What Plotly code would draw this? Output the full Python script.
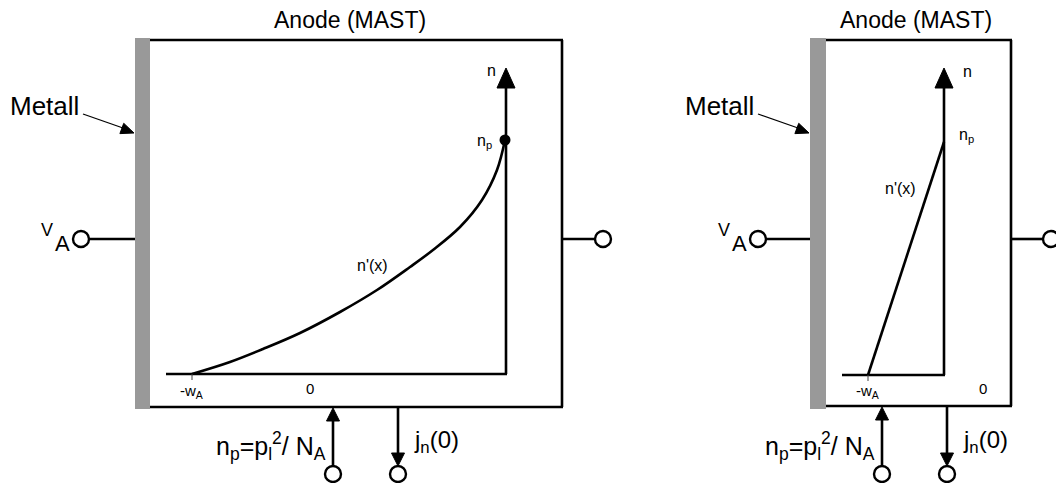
import math
import plotly.graph_objects as go

# ---------------- data (pixel space of the drawing) -------------
panel_titles = ["Anode (MAST)", "Anode (MAST)"]
metal_label = "Metall"
# left panel: exponential-like minority carrier profile n'(x)
curve_left_x = [192, 230, 263, 300, 340, 377, 410, 433, 460, 482, 497, 505]
curve_left_y = [374, 362, 349, 333, 312, 290, 267, 250, 227, 200, 170, 140]
# right panel: linear profile n'(x)
line_right_x = [868, 944]
line_right_y = [375, 142]
# boundary value n_p marker (left panel)
np_point_x = [505]
np_point_y = [140]

FONT = "Liberation Sans, Arial, sans-serif"
LW = 2.6

shapes = []
annotations = []


def line(x0, y0, x1, y1, w=LW, color="black"):
    shapes.append(dict(type="line", x0=x0, y0=y0, x1=x1, y1=y1,
                       line=dict(color=color, width=w), layer="above"))


def head(tx, ty, ux, uy, L, W):
    n = math.hypot(ux, uy)
    ux, uy = ux / n, uy / n
    bx, by = tx - ux * L, ty - uy * L
    px, py = -uy, ux
    p = (f"M {tx},{ty} L {bx + px * W / 2},{by + py * W / 2} "
         f"L {bx - px * W / 2},{by - py * W / 2} Z")
    shapes.append(dict(type="path", path=p, fillcolor="black",
                       line=dict(color="black", width=1), layer="above"))


def circle(cx, cy, r=8):
    shapes.append(dict(type="circle", x0=cx - r, x1=cx + r, y0=cy - r, y1=cy + r,
                       fillcolor="white", line=dict(color="black", width=2.4),
                       layer="above"))


def text(x, y, s, size, xanchor="center", yanchor="middle"):
    annotations.append(dict(x=x, y=y, text=s, showarrow=False,
                            xanchor=xanchor, yanchor=yanchor,
                            font=dict(family=FONT, size=size, color="black")))


def panel(bar0, bar1, R, B, title_x, metal_x, va_x, vcirc_x, rcirc_x,
          base_x0, axis_x, tick_x, zero_x, up_x, down_x):
    T = 40
    mid = 239
    # metal contact
    shapes.append(dict(type="rect", x0=bar0, x1=bar1, y0=38, y1=409,
                       fillcolor="#999999", line=dict(width=0), layer="above"))
    # box
    line(bar1, T, R + 1, T)
    line(R, T, R, B)
    line(bar1, B, R + 1, B)
    # title
    text(title_x, 20, panel_titles[0], 23)
    # Metall arrow
    text(metal_x, 106, metal_label, 26)
    line(metal_x + 39, 114, bar0 - 12, 128, w=1.3)
    head(bar0 - 1, 133, 51, 19, 13, 11)
    # V_A terminal
    text(va_x, 230, "V", 18)
    text(va_x + 15, 243, "A", 22)
    line(vcirc_x + 8, mid, bar0, mid)
    circle(vcirc_x, mid)
    # right terminal
    line(R, mid, rcirc_x - 8, mid)
    circle(rcirc_x, mid)
    # inner axes
    base_y = 374 if B == 407 else 375
    line(base_x0, base_y, axis_x + 1, base_y)
    line(axis_x, base_y, axis_x, 86)
    head(axis_x, 68, 0, -1, 20, 18)
    line(tick_x, base_y, tick_x, base_y + 6, w=1, color="#444444")
    text(tick_x - 1, 391, "-w<sub>A</sub>", 15)
    text(zero_x, 388, "0", 15)
    # bottom terminals
    line(up_x, 466, up_x, 418)
    head(up_x, B + 1, 0, -1, 13, 13)
    circle(up_x, 474)
    line(down_x, B, down_x, 454)
    head(down_x, 466, 0, 1, 13, 13)
    circle(down_x, 474)
    text(up_x - 5, 446, "n<sub>p</sub>=p<sub>l</sub><sup>2</sup>/ N<sub>A</sub>", 25,
         xanchor="right")
    text(down_x + 14, 441, "j<sub>n</sub>(0)", 24, xanchor="left")


panel(bar0=135, bar1=150, R=562, B=407, title_x=350, metal_x=44, va_x=47,
      vcirc_x=81, rcirc_x=603, base_x0=166, axis_x=506, tick_x=192,
      zero_x=310, up_x=333, down_x=398)
panel(bar0=810, bar1=826, R=1011, B=406, title_x=916, metal_x=719, va_x=724,
      vcirc_x=758, rcirc_x=1051, base_x0=842, axis_x=944, tick_x=868,
      zero_x=983, up_x=882, down_x=947)

# inner labels
text(491, 70, "n", 16)
text(494, 141, "n<sub>p</sub>", 16, xanchor="right")
text(372, 265, "n'(x)", 16)
text(967, 71, "n", 16)
text(957, 135, "n<sub>p</sub>", 16, xanchor="left")
text(900, 188, "n'(x)", 16)

fig = go.Figure()
fig.add_trace(go.Scatter(x=curve_left_x, y=curve_left_y, mode="lines",
                         line=dict(color="black", width=LW, shape="spline"),
                         hoverinfo="skip", showlegend=False))
fig.add_trace(go.Scatter(x=line_right_x, y=line_right_y, mode="lines",
                         line=dict(color="black", width=LW),
                         hoverinfo="skip", showlegend=False))
fig.add_trace(go.Scatter(x=np_point_x, y=np_point_y, mode="markers",
                         marker=dict(color="black", size=11),
                         hoverinfo="skip", showlegend=False))

fig.update_layout(
    width=1056, height=483,
    margin=dict(l=0, r=0, t=0, b=0),
    paper_bgcolor="white", plot_bgcolor="white",
    xaxis=dict(range=[0, 1056], visible=False, fixedrange=True),
    yaxis=dict(range=[483, 0], visible=False, fixedrange=True),
    shapes=shapes, annotations=annotations,
    showlegend=False,
)
fig.write_html("out.html", config=dict(displayModeBar=False))
